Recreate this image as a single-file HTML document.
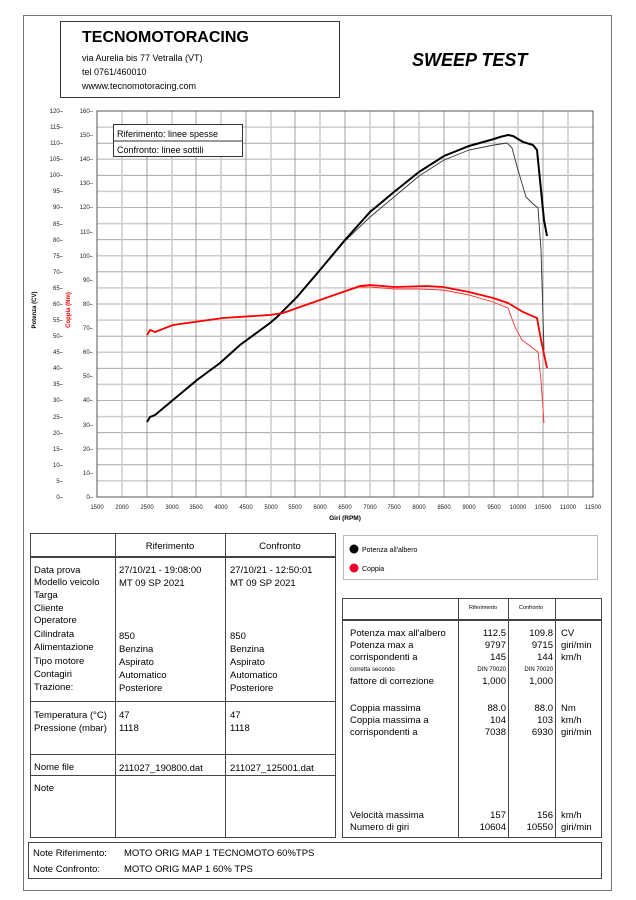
<!DOCTYPE html>
<html><head><meta charset="utf-8"><style>
html,body{margin:0;padding:0;background:#fff;}
svg{display:block;font-family:"Liberation Sans",sans-serif;}
</style></head><body>
<svg width="636" height="900" viewBox="0 0 636 900" xmlns="http://www.w3.org/2000/svg">
<rect x="0" y="0" width="636" height="900" fill="#fff"/>
<rect x="23.5" y="15.5" width="588" height="875" fill="none" stroke="#777" stroke-width="1"/>
<rect x="60.5" y="21.5" width="279" height="76" fill="none" stroke="#333" stroke-width="1"/>
<text x="82" y="42" font-size="16" font-weight="bold" fill="#000">TECNOMOTORACING</text>
<text x="82" y="61" font-size="9" fill="#000">via Aurelia bis 77 Vetralla (VT)</text>
<text x="82" y="75" font-size="9" fill="#000">tel 0761/460010</text>
<text x="82" y="89" font-size="9" fill="#000">wwww.tecnomotoracing.com</text>
<text x="412" y="66" font-size="18" font-weight="bold" font-style="italic" fill="#000">SWEEP TEST</text>

<g stroke="#999" stroke-width="0.8">
<line x1="97" y1="111" x2="593" y2="111"/><line x1="97" y1="127.1" x2="593" y2="127.1" stroke="#ccc" stroke-width="1.5"/>
<line x1="97" y1="143.2" x2="593" y2="143.2"/><line x1="97" y1="159.3" x2="593" y2="159.3" stroke="#ccc" stroke-width="1.5"/>
<line x1="97" y1="175.3" x2="593" y2="175.3"/><line x1="97" y1="191.4" x2="593" y2="191.4" stroke="#ccc" stroke-width="1.5"/>
<line x1="97" y1="207.5" x2="593" y2="207.5"/><line x1="97" y1="223.6" x2="593" y2="223.6" stroke="#ccc" stroke-width="1.5"/>
<line x1="97" y1="239.7" x2="593" y2="239.7"/><line x1="97" y1="255.8" x2="593" y2="255.8" stroke="#ccc" stroke-width="1.5"/>
<line x1="97" y1="271.8" x2="593" y2="271.8"/><line x1="97" y1="287.9" x2="593" y2="287.9" stroke="#ccc" stroke-width="1.5"/>
<line x1="97" y1="304" x2="593" y2="304"/><line x1="97" y1="320.1" x2="593" y2="320.1" stroke="#ccc" stroke-width="1.5"/>
<line x1="97" y1="336.2" x2="593" y2="336.2"/><line x1="97" y1="352.3" x2="593" y2="352.3" stroke="#ccc" stroke-width="1.5"/>
<line x1="97" y1="368.3" x2="593" y2="368.3"/><line x1="97" y1="384.4" x2="593" y2="384.4" stroke="#ccc" stroke-width="1.5"/>
<line x1="97" y1="400.5" x2="593" y2="400.5"/><line x1="97" y1="416.6" x2="593" y2="416.6" stroke="#ccc" stroke-width="1.5"/>
<line x1="97" y1="432.7" x2="593" y2="432.7"/><line x1="97" y1="448.8" x2="593" y2="448.8" stroke="#ccc" stroke-width="1.5"/>
<line x1="97" y1="464.8" x2="593" y2="464.8"/><line x1="97" y1="480.9" x2="593" y2="480.9" stroke="#ccc" stroke-width="1.5"/>
</g>
<g stroke="#888" stroke-width="0.8">
<line x1="122" y1="111" x2="122" y2="497" stroke="#ccc" stroke-width="1.5"/>
<line x1="147" y1="111" x2="147" y2="497"/>
<line x1="172" y1="111" x2="172" y2="497" stroke="#ccc" stroke-width="1.5"/>
<line x1="196" y1="111" x2="196" y2="497"/>
<line x1="221" y1="111" x2="221" y2="497" stroke="#ccc" stroke-width="1.5"/>
<line x1="246" y1="111" x2="246" y2="497"/>
<line x1="271" y1="111" x2="271" y2="497" stroke="#ccc" stroke-width="1.5"/>
<line x1="295" y1="111" x2="295" y2="497"/>
<line x1="320" y1="111" x2="320" y2="497" stroke="#ccc" stroke-width="1.5"/>
<line x1="345" y1="111" x2="345" y2="497"/>
<line x1="370" y1="111" x2="370" y2="497" stroke="#ccc" stroke-width="1.5"/>
<line x1="394" y1="111" x2="394" y2="497"/>
<line x1="419" y1="111" x2="419" y2="497" stroke="#ccc" stroke-width="1.5"/>
<line x1="444" y1="111" x2="444" y2="497"/>
<line x1="469" y1="111" x2="469" y2="497" stroke="#ccc" stroke-width="1.5"/>
<line x1="494" y1="111" x2="494" y2="497"/>
<line x1="518" y1="111" x2="518" y2="497" stroke="#ccc" stroke-width="1.5"/>
<line x1="543" y1="111" x2="543" y2="497"/>
<line x1="568" y1="111" x2="568" y2="497" stroke="#ccc" stroke-width="1.5"/>
</g>
<rect x="97" y="111" width="496" height="386" fill="none" stroke="#555" stroke-width="1"/>

<g font-size="6" fill="#222" text-anchor="end">
<text x="63" y="113">120–</text><text x="63" y="129">115–</text><text x="63" y="145">110–</text><text x="63" y="161">105–</text>
<text x="63" y="177">100–</text><text x="63" y="193">95–</text><text x="63" y="209">90–</text><text x="63" y="226">85–</text>
<text x="63" y="242">80–</text><text x="63" y="258">75–</text><text x="63" y="274">70–</text><text x="63" y="290">65–</text>
<text x="63" y="306">60–</text><text x="63" y="322">55–</text><text x="63" y="338">50–</text><text x="63" y="354">45–</text>
<text x="63" y="370">40–</text><text x="63" y="386">35–</text><text x="63" y="402">30–</text><text x="63" y="419">25–</text>
<text x="63" y="435">20–</text><text x="63" y="451">15–</text><text x="63" y="467">10–</text><text x="63" y="483">5–</text><text x="63" y="499">0–</text>
</g>
<g font-size="6" fill="#222" text-anchor="end">
<text x="93" y="113">160–</text><text x="93" y="137">150–</text><text x="93" y="161">140–</text><text x="93" y="185">130–</text>
<text x="93" y="209">120–</text><text x="93" y="234">110–</text><text x="93" y="258">100–</text><text x="93" y="282">90–</text>
<text x="93" y="306">80–</text><text x="93" y="330">70–</text><text x="93" y="354">60–</text><text x="93" y="378">50–</text>
<text x="93" y="402">40–</text><text x="93" y="427">30–</text><text x="93" y="451">20–</text><text x="93" y="475">10–</text><text x="93" y="499">0–</text>
</g>
<text transform="translate(36,310) rotate(-90)" font-size="6" font-weight="bold" fill="#000" text-anchor="middle">Potenza (CV)</text>
<text transform="translate(70,310) rotate(-90)" font-size="6" font-weight="bold" fill="#e00" text-anchor="middle">Coppia (Nm)</text>

<g font-size="6" fill="#222" text-anchor="middle">
<text x="97" y="509">1500</text><text x="122" y="509">2000</text><text x="147" y="509">2500</text><text x="172" y="509">3000</text>
<text x="196" y="509">3500</text><text x="221" y="509">4000</text><text x="246" y="509">4500</text><text x="271" y="509">5000</text>
<text x="295" y="509">5500</text><text x="320" y="509">6000</text><text x="345" y="509">6500</text><text x="370" y="509">7000</text>
<text x="394" y="509">7500</text><text x="419" y="509">8000</text><text x="444" y="509">8500</text><text x="469" y="509">9000</text>
<text x="494" y="509">9500</text><text x="518" y="509">10000</text><text x="543" y="509">10500</text><text x="568" y="509">11000</text><text x="593" y="509">11500</text>
</g>
<text x="345" y="520" font-size="6.5" font-weight="bold" fill="#000" text-anchor="middle">Giri (RPM)</text>

<rect x="113.5" y="124.5" width="129" height="32" fill="#fff" stroke="#333" stroke-width="1"/>
<line x1="113.5" y1="141" x2="242.5" y2="141" stroke="#333" stroke-width="1"/>
<text x="117" y="137" font-size="9" fill="#000">Riferimento: linee spesse</text>
<text x="117" y="153" font-size="9" fill="#000">Confronto: linee sottili</text>

<polyline fill="none" stroke="#333" stroke-width="0.9" points="147,422 150,417 155,415 173,400 197,380 220,363 240,345 270,323 277,317 297,297 320,270 345,241 370,217 394,197 419,176 444,160 469,150 494,145 507,143 512,148 518,170 526,197 532,203 538,208 541,250 544,350"/>
<polyline fill="none" stroke="#000" stroke-width="2" points="147,422 150,417 155,415 173,400 197,380 220,363 240,345 270,323 277,317 297,297 320,270 345,240 370,212 394,192 419,172 444,156 469,146 494,139 500,137 508,135 513,136 518,139 523,142 533,145 537,150 541,190 544,220 547,236"/>
<polyline fill="none" stroke="#f33" stroke-width="0.9" points="147,335 150,330 155,332 173,325 223,318 270,315 283,313 320,300 340,293 360,287 370,287 394,289 419,289 443,290 469,295 493,302 508,308 515,327 522,340 530,346 538,352 541,380 544,423"/>
<polyline fill="none" stroke="#f00" stroke-width="1.8" points="147,335 150,330 155,332 173,325 223,318 270,315 283,313 320,300 340,293 360,286 370,285 394,287 427,286 443,287 469,292 493,298 508,303 523,312 537,318 541,340 547,368"/>

<g stroke="#444" fill="none" stroke-width="1">
<rect x="30.5" y="533.5" width="305" height="304"/>
<line x1="115.5" y1="533" x2="115.5" y2="838"/>
<line x1="225.5" y1="533" x2="225.5" y2="838"/>
<line x1="31" y1="557" x2="335" y2="557" stroke-width="2"/>
<line x1="31" y1="701.5" x2="335" y2="701.5"/>
<line x1="31" y1="754.5" x2="335" y2="754.5"/>
<line x1="31" y1="775.5" x2="335" y2="775.5"/>
</g>
<g font-size="9.5" fill="#000">
<text x="170" y="549" text-anchor="middle">Riferimento</text>
<text x="280" y="549" text-anchor="middle">Confronto</text>
<text x="34" y="573">Data prova</text><text x="34" y="585">Modello veicolo</text><text x="34" y="598">Targa</text>
<text x="34" y="611">Cliente</text><text x="34" y="623">Operatore</text><text x="34" y="637">Cilindrata</text>
<text x="34" y="650">Alimentazione</text><text x="34" y="664">Tipo motore</text><text x="34" y="677">Contagiri</text><text x="34" y="690">Trazione:</text>
<text x="119" y="573">27/10/21 - 19:08:00</text><text x="119" y="586">MT 09 SP 2021</text>
<text x="230" y="573">27/10/21 - 12:50:01</text><text x="230" y="586">MT 09 SP 2021</text>
<text x="119" y="639">850</text><text x="230" y="639">850</text>
<text x="119" y="652">Benzina</text><text x="230" y="652">Benzina</text>
<text x="119" y="665">Aspirato</text><text x="230" y="665">Aspirato</text>
<text x="119" y="678">Automatico</text><text x="230" y="678">Automatico</text>
<text x="119" y="691">Posteriore</text><text x="230" y="691">Posteriore</text>
<text x="34" y="718">Temperatura (°C)</text><text x="34" y="731">Pressione (mbar)</text>
<text x="119" y="718">47</text><text x="230" y="718">47</text>
<text x="119" y="731">1118</text><text x="230" y="731">1118</text>
<text x="34" y="770">Nome file</text><text x="119" y="771">211027_190800.dat</text><text x="230" y="771">211027_125001.dat</text>
<text x="34" y="791">Note</text>
</g>

<rect x="343.5" y="535.5" width="254" height="44" fill="none" stroke="#bbb" stroke-width="1"/>
<circle cx="354" cy="549" r="4.5" fill="#000"/>
<circle cx="354" cy="568" r="4.5" fill="#e8002a"/>
<text x="362" y="552" font-size="7" fill="#000">Potenza all'albero</text>
<text x="362" y="571" font-size="7" fill="#000">Coppia</text>

<g stroke="#444" fill="none" stroke-width="1">
<rect x="342.5" y="598.5" width="259" height="239"/>
<line x1="458.5" y1="598" x2="458.5" y2="838"/>
<line x1="508.5" y1="598" x2="508.5" y2="838"/>
<line x1="555.5" y1="598" x2="555.5" y2="838"/>
<line x1="343" y1="620" x2="601" y2="620" stroke-width="2"/>
</g>
<g font-size="5.5" fill="#000">
<text x="483" y="609" text-anchor="middle">Riferimento</text>
<text x="531" y="609" text-anchor="middle">Confronto</text>
</g>
<g font-size="9.5" fill="#000">
<text x="350" y="636">Potenza max all'albero</text><text x="350" y="648">Potenza max a</text><text x="350" y="660">corrispondenti a</text>
<text x="350" y="684">fattore di correzione</text>
<text x="350" y="711">Coppia massima</text><text x="350" y="723">Coppia massima a</text><text x="350" y="735">corrispondenti a</text>
<text x="350" y="818">Velocità massima</text><text x="350" y="830">Numero di giri</text>
</g>
<text x="350" y="671" font-size="6" fill="#000">corretta secondo</text>
<g font-size="9.5" fill="#000" text-anchor="end">
<text x="506" y="636">112.5</text><text x="506" y="648">9797</text><text x="506" y="660">145</text><text x="506" y="684">1,000</text>
<text x="506" y="711">88.0</text><text x="506" y="723">104</text><text x="506" y="735">7038</text>
<text x="506" y="818">157</text><text x="506" y="830">10604</text>
<text x="553" y="636">109.8</text><text x="553" y="648">9715</text><text x="553" y="660">144</text><text x="553" y="684">1,000</text>
<text x="553" y="711">88.0</text><text x="553" y="723">103</text><text x="553" y="735">6930</text>
<text x="553" y="818">156</text><text x="553" y="830">10550</text>
</g>
<g font-size="6" fill="#000" text-anchor="end">
<text x="506" y="671">DIN 70020</text><text x="553" y="671">DIN 70020</text>
</g>
<g font-size="9.5" fill="#000">
<text x="561" y="636">CV</text><text x="561" y="648">giri/min</text><text x="561" y="660">km/h</text>
<text x="561" y="711">Nm</text><text x="561" y="723">km/h</text><text x="561" y="735">giri/min</text>
<text x="561" y="818">km/h</text><text x="561" y="830">giri/min</text>
</g>

<rect x="28.5" y="842.5" width="573" height="36" fill="none" stroke="#444" stroke-width="1"/>
<g font-size="9.5" fill="#000">
<text x="33" y="856">Note Riferimento:</text><text x="124" y="856">MOTO ORIG MAP 1 TECNOMOTO 60%TPS</text>
<text x="33" y="872">Note Confronto:</text><text x="124" y="872">MOTO ORIG MAP 1 60% TPS</text>
</g>
</svg>
</body></html>
